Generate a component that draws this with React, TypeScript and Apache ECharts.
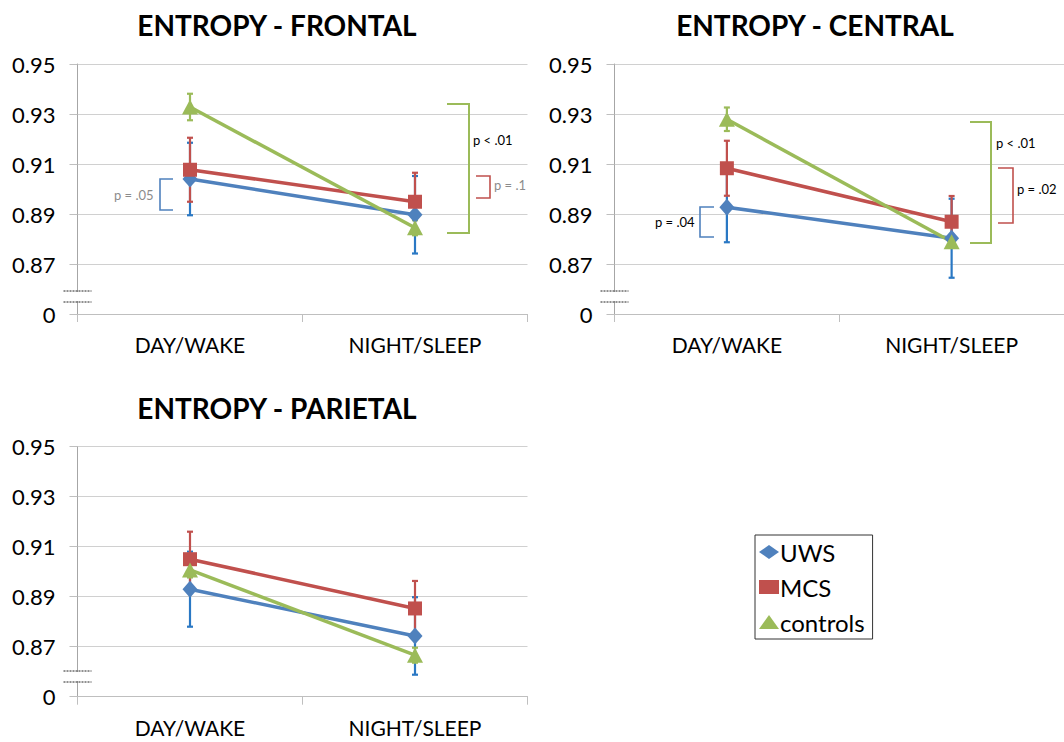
import React, { useEffect, useRef } from "react";
import * as echarts from "echarts";

// ---- data ----
const categories = ["DAY/WAKE", "NIGHT/SLEEP"];
const seriesNames = ["UWS", "MCS", "controls"];
const yTickValues = [0.85, 0.87, 0.89, 0.91, 0.93, 0.95]; // 0.85 shown as "0" (broken axis)

const frontalUWS = [0.904, 0.8897];
const frontalUWSErr = [0.0145, 0.0155];
const frontalMCS = [0.9077, 0.8949];
const frontalMCSErr = [0.0128, 0.0116];
const frontalControls = [0.9328, 0.8845];
const frontalControlsErr = [0.0053, 0.003];

const centralUWS = [0.8927, 0.8803];
const centralUWSErr = [0.014, 0.0158];
const centralMCS = [0.9083, 0.8869];
const centralMCSErr = [0.011, 0.0103];
const centralControls = [0.9279, 0.8789];
const centralControlsErr = [0.0047, 0.002];

const parietalUWS = [0.893, 0.8743];
const parietalUWSErr = [0.015, 0.0155];
const parietalMCS = [0.905, 0.8853];
const parietalMCSErr = [0.011, 0.011];
const parietalControls = [0.9007, 0.8666];
const parietalControlsErr = [0.003, 0.003];

const panelTitles = ["ENTROPY - FRONTAL", "ENTROPY - CENTRAL", "ENTROPY - PARIETAL"];

// ---- styles ----
const FONT = "Lato, 'Open Sans', sans-serif";
const lineColors = ["#4F81BD", "#C0504D", "#9BBB59"];
const errColors = ["#2A78C4", "#C0504D", "#9BBB59"];
const symbols = ["diamond", "rect", "triangle"];
const symbolSizes: any[] = [[15, 17], 14, [16, 15]];

const grids = [
  { left: 77.5, top: 64, width: 450, height: 250 },
  { left: 614.5, top: 64, width: 450, height: 250 },
  { left: 77.5, top: 446.7, width: 450, height: 250 },
];
const titlePos = [
  { x: 272, y: 6 },
  { x: 810, y: 6 },
  { x: 272, y: 389 },
];

const panels = [
  { vals: [frontalUWS, frontalMCS, frontalControls], errs: [frontalUWSErr, frontalMCSErr, frontalControlsErr] },
  { vals: [centralUWS, centralMCS, centralControls], errs: [centralUWSErr, centralMCSErr, centralControlsErr] },
  { vals: [parietalUWS, parietalMCS, parietalControls], errs: [parietalUWSErr, parietalMCSErr, parietalControlsErr] },
];

function errorRender(color: string) {
  return (params: any, api: any) => {
    const x = api.value(0);
    const lo = api.value(1);
    const hi = api.value(2);
    const top = api.coord([x, hi]);
    const bot = api.coord([x, lo]);
    const w = 3;
    const st = { stroke: color, lineWidth: 2.2 };
    return {
      type: "group",
      children: [
        { type: "line", shape: { x1: top[0], y1: top[1], x2: bot[0], y2: bot[1] }, style: st },
        { type: "line", shape: { x1: top[0] - w, y1: top[1], x2: top[0] + w, y2: top[1] }, style: st },
        { type: "line", shape: { x1: bot[0] - w, y1: bot[1], x2: bot[0] + w, y2: bot[1] }, style: st },
      ],
    };
  };
}

function bracket(points: number[][], color: string, width = 1.6) {
  return { type: "polyline", shape: { points }, style: { stroke: color, lineWidth: width, fill: null }, z: 100 };
}
function pLabel(text: string, x: number, y: number, color: string) {
  return {
    type: "text",
    x,
    y,
    z: 100,
    style: { text, fill: color, font: `13px ${FONT}`, verticalAlign: "middle", align: "left" },
  };
}
function axisBreak(ax: number, y1: number, y2: number) {
  return [
    { type: "rect", shape: { x: ax - 3, y: y1 + 1, width: 6, height: y2 - y1 - 2 }, style: { fill: "#fff" }, z: 100 },
    { type: "line", shape: { x1: ax - 14, y1, x2: ax + 14, y2: y1 }, style: { stroke: "#222", lineWidth: 1, lineDash: [2, 1] }, z: 101 },
    { type: "line", shape: { x1: ax - 14, y1: y2, x2: ax + 14, y2 }, style: { stroke: "#222", lineWidth: 1, lineDash: [2, 1] }, z: 101 },
  ];
}

export default function App() {
  const ref = useRef<HTMLDivElement>(null);
  useEffect(() => {
    if (!ref.current) return;
    const chart = echarts.init(ref.current, null, { renderer: "svg" });

    const xAxis = grids.map((_, i) => ({
      type: "category",
      gridIndex: i,
      data: categories,
      boundaryGap: true,
      axisLine: { lineStyle: { color: "#BFBFBF", width: 1 } },
      axisTick: { show: true, length: 8, lineStyle: { color: "#BFBFBF" } },
      axisLabel: { color: "#000", fontSize: 21, fontFamily: FONT, margin: 20 },
    }));
    const yAxis = grids.map((_, i) => ({
      type: "value",
      gridIndex: i,
      min: yTickValues[0],
      max: yTickValues[yTickValues.length - 1],
      interval: 0.02,
      axisLine: { show: true, lineStyle: { color: "#A6A6A6", width: 1 } },
      axisTick: { show: true, length: 8, lineStyle: { color: "#BFBFBF" } },
      splitLine: { lineStyle: { color: "#D0D0D0", width: 1 } },
      axisLabel: {
        color: "#000",
        fontSize: 22,
        fontFamily: FONT,
        margin: 22,
        formatter: (v: number) => (v < yTickValues[0] + 0.005 ? "0" : v.toFixed(2)),
      },
    }));

    const series: any[] = [];
    panels.forEach((p, gi) => {
      seriesNames.forEach((name, si) => {
        series.push({
          type: "custom",
          name: name + " error",
          xAxisIndex: gi,
          yAxisIndex: gi,
          renderItem: errorRender(errColors[si]),
          encode: { x: 0, y: [1, 2] },
          data: p.vals[si].map((v, k) => [k, v - p.errs[si][k], v + p.errs[si][k]]),
          silent: true,
          z: 3,
        });
        series.push({
          type: "line",
          name,
          xAxisIndex: gi,
          yAxisIndex: gi,
          data: p.vals[si],
          symbol: symbols[si],
          symbolSize: symbolSizes[si],
          lineStyle: { color: lineColors[si], width: 3.5 },
          itemStyle: { color: lineColors[si] },
          z: 3,
        });
      });
    });

    const graphic: any[] = [
      // frontal brackets
      bracket([[173, 179], [160, 179], [160, 210], [173, 210]], "#4F81BD"),
      pLabel("p = .05", 114, 195, "#8C8C8C"),
      bracket([[447, 104], [469, 104], [469, 233], [447, 233]], "#9BBB59", 2),
      pLabel("p < .01", 473, 140, "#000"),
      bracket([[476, 176], [490, 176], [490, 198], [476, 198]], "#C0504D"),
      pLabel("p = .1", 494, 185, "#8C8C8C"),
      // central brackets
      bracket([[714, 207], [700, 207], [700, 237], [714, 237]], "#4F81BD"),
      pLabel("p = .04", 655, 222, "#000"),
      bracket([[970, 122], [991, 122], [991, 243], [970, 243]], "#9BBB59", 2),
      pLabel("p < .01", 996, 143, "#000"),
      bracket([[998, 168], [1013, 168], [1013, 223], [998, 223]], "#C0504D"),
      pLabel("p = .02", 1017, 189, "#000"),
      ...axisBreak(77.5, 291, 302),
      ...axisBreak(614.5, 291, 302),
      ...axisBreak(77.5, 671, 682),
    ];

    chart.setOption({
      animation: false,
      backgroundColor: "#fff",
      title: panelTitles.map((t, i) => ({
        text: t,
        left: titlePos[i].x,
        top: titlePos[i].y,
        textAlign: "center",
        textStyle: { fontSize: 28, fontWeight: "bold", color: "#000", fontFamily: FONT },
      })),
      legend: {
        orient: "vertical",
        left: 755,
        top: 535,
        data: seriesNames.map((n, i) => ({ name: n, icon: symbols[i] })),
        itemWidth: 20,
        itemHeight: 14,
        itemGap: 11,
        padding: [5, 8, 5, 4],
        borderColor: "#333",
        borderWidth: 1,
        textStyle: { fontSize: 24, color: "#000", fontFamily: FONT, padding: [0, 0, 0, -4] },
        selectedMode: false,
      },
      grid: grids.map((g) => ({ ...g })),
      xAxis,
      yAxis,
      series,
      graphic,
    });
    return () => chart.dispose();
  }, []);
  return <div ref={ref} style={{ position: "fixed", left: 0, top: 0, width: 1064, height: 742 }} />;
}
